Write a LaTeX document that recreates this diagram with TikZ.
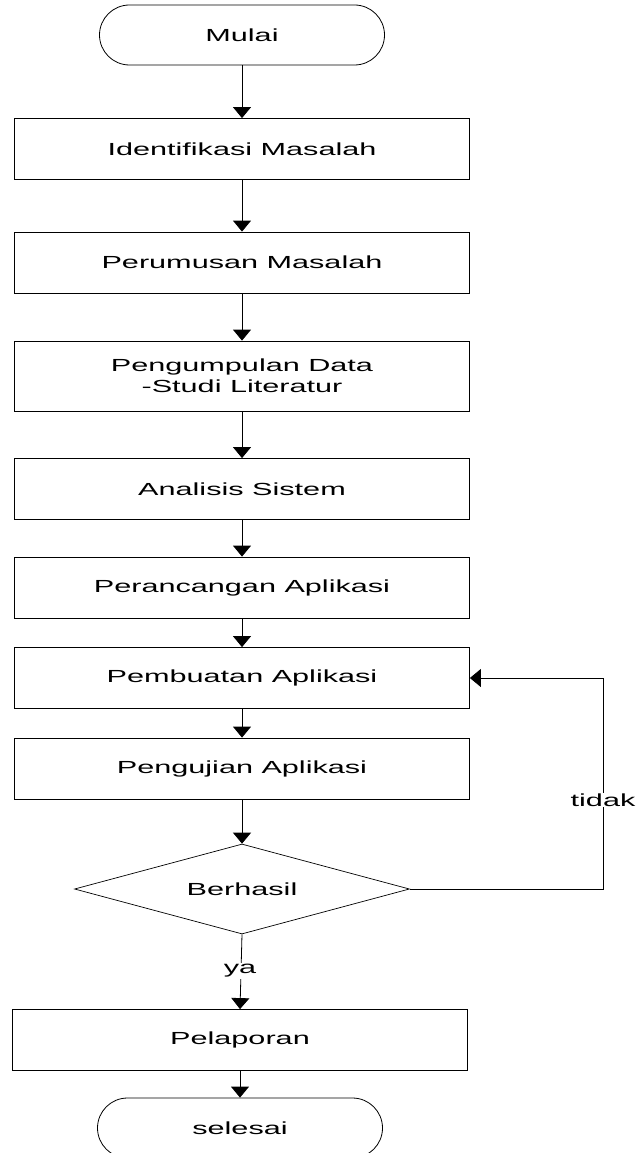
\documentclass[tikz,border=0pt]{standalone}
\usepackage{fontspec}
\setmainfont{Liberation Sans}[FakeStretch=1.75]
\usetikzlibrary{arrows.meta,shapes.geometric}

\tikzset{
  proses/.style={draw, line width=0.8pt, minimum width=455pt, minimum height=61pt, inner sep=0pt},
  terminal/.style={draw, line width=0.8pt, rounded corners=30pt, minimum width=285pt, minimum height=60pt, inner sep=0pt},
  keputusan/.style={draw, diamond, aspect=3.7, line width=0.7pt, minimum width=335pt, minimum height=90pt, inner sep=0pt},
  panah/.style={-{Triangle[width=18pt,length=11pt]}, line width=0.8pt},
  ket/.style={fill=white, inner sep=1pt}
}

\begin{document}
\begin{tikzpicture}[x=1pt, y=-1pt, font=\fontsize{17.5pt}{21pt}\selectfont]

\useasboundingbox (0,0) rectangle (638,1153);

% alur utama
\node[terminal] (mulai) at (242,35) {Mulai};
\node[proses] (identifikasi) at (242,149) {Identifikasi Masalah};
\node[proses] (perumusan) at (242,262.5) {Perumusan Masalah};
\node[proses, minimum height=70pt, align=center] (pengumpulan) at (242,376) {Pengumpulan Data\\-Studi Literatur};
\node[proses] (analisis) at (242,489) {Analisis Sistem};
\node[proses] (perancangan) at (242,587.5) {Perancangan Aplikasi};
\node[proses] (pembuatan) at (242,678) {Pembuatan Aplikasi};
\node[proses] (pengujian) at (242,768.5) {Pengujian Aplikasi};
\node[keputusan] (berhasil) at (242,889) {Berhasil};
\node[proses] (pelaporan) at (240,1040) {Pelaporan};
\node[terminal] (selesai) at (240,1128) {selesai};

\draw[panah] (mulai) -- (identifikasi);
\draw[panah] (identifikasi) -- (perumusan);
\draw[panah] (perumusan) -- (pengumpulan);
\draw[panah] (pengumpulan) -- (analisis);
\draw[panah] (analisis) -- (perancangan);
\draw[panah] (perancangan) -- (pembuatan);
\draw[panah] (pembuatan) -- (pengujian);
\draw[panah] (pengujian) -- (berhasil);
\draw[panah] (berhasil.south) -- (pelaporan.north);
\draw[panah] (pelaporan) -- (selesai);

% kembali jika gagal
\coordinate (balik) at (603,678);
\draw[panah] (berhasil.east) -| (balik) -- (pembuatan.east);

\node[ket] (ya) at (240,971) {ya};
\node[ket] (tidak) at (603,800) {tidak};

\end{tikzpicture}
\end{document}
